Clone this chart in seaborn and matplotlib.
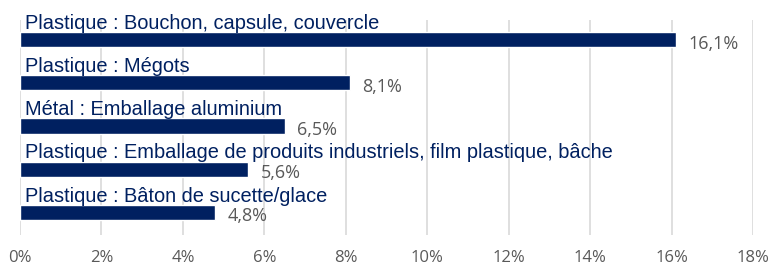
import seaborn as sns
import matplotlib.pyplot as plt
import pandas as pd

categories = [
    "Plastique : Bouchon, capsule, couvercle",
    "Plastique : Mégots",
    "Métal : Emballage aluminium",
    "Plastique : Emballage de produits industriels, film plastique, bâche",
    "Plastique : Bâton de sucette/glace",
]
values = [16.1, 8.1, 6.5, 5.6, 4.8]
ticks = [0, 2, 4, 6, 8, 10, 12, 14, 16, 18]

navy = "#002060"
grey = "#595959"

sns.set_style("white")
plt.rcParams['font.family'] = ['Liberation Sans', 'DejaVu Sans']

df = pd.DataFrame({"cat": categories, "val": values})

fig = plt.figure(figsize=(7.7, 2.69), dpi=100)
ax = fig.add_axes([0.026, 0.126, 0.952, 0.8])

sns.barplot(data=df, x="val", y="cat", orient="h", color=navy, width=0.35,
            saturation=1, ax=ax, zorder=2)

ax.set_xlim(0, 18)
ax.set_ylim(4.535, -0.465)
ax.set_xticks(ticks)
ax.set_xticklabels([f"{t}%" for t in ticks], color=grey, fontsize=12, family="Open Sans")
ax.tick_params(axis="x", length=0, pad=11)
ax.set_yticks([])
ax.set_xlabel("")
ax.set_ylabel("")
ax.grid(axis="x", color="#D9D9D9", lw=1.2, zorder=0)
for s in ax.spines.values():
    s.set_visible(False)

for i, (c, v) in enumerate(zip(categories, values)):
    ax.text(0.12, i - 0.245, c, color=navy, fontsize=14.4, va="baseline", ha="left", zorder=3)
    ax.annotate(f"{v:.1f}".replace(".", ",") + "%", xy=(v, i), xytext=(9, -3),
                textcoords="offset points", va="center", ha="left",
                color=grey, fontsize=13, family="Open Sans")

fig.savefig("out.png", dpi=100)
